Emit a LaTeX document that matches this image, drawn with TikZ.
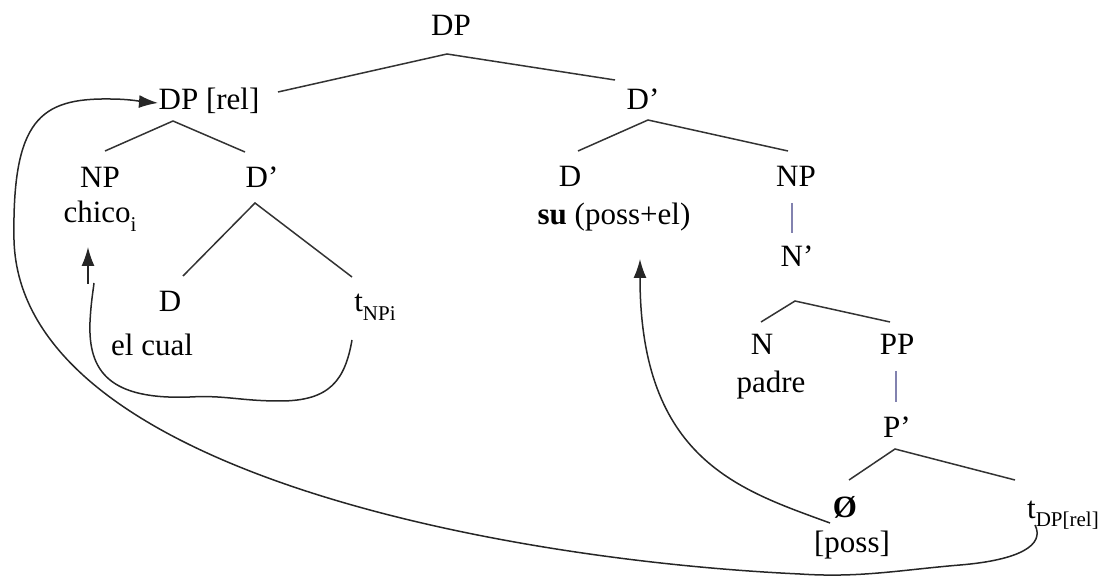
\documentclass[tikz,border=0pt]{standalone}
\usepackage{fontspec}
\setmainfont{Liberation Serif}
\usetikzlibrary{arrows.meta}
\definecolor{unarycol}{RGB}{130,130,175}
\newcommand{\lowsub}[1]{\raisebox{-0.28em}{\fontsize{21}{21}\selectfont #1}}
\begin{document}
\begin{tikzpicture}[x=1pt,y=-1pt,
  lbl/.style={anchor=base, inner sep=0pt, font=\fontsize{31}{36}\selectfont},
  branch/.style={draw=black!80, line width=1.5pt},
  unary/.style={draw=unarycol, line width=1.3pt},
  move/.style={draw=black!85, line width=1.5pt},
  tip/.style={-{Latex[length=19pt,width=13pt]}}]
\useasboundingbox (0,0) rectangle (1104,577);

% labels
\node[lbl] (DP) at (451,36) {DP};
\node[lbl] (DPrel) at (209,110) {DP [rel]};
\node[lbl] (DbarR) at (643,110) {D’};
\node[lbl] (NPL) at (100,188) {NP};
\node[lbl] (chico) at (100,223) {chico\lowsub{i}};
\node[lbl] (DbarL) at (262,188) {D’};
\node[lbl] (DL) at (170,312) {D};
\node[lbl] (tNP) at (375,312) {t\lowsub{NPi}};
\node[lbl] (elcual) at (152,356) {el cual};
\node[lbl] (DR) at (570,187) {D};
\node[lbl] (NPR) at (796,187) {NP};
\node[lbl] (su) at (614,225) {\textbf{su} (poss+el)};
\node[lbl] (Nbar) at (797,267) {N’};
\node[lbl] (N) at (762,355) {N};
\node[lbl] (padre) at (771,393) {padre};
\node[lbl] (PP) at (897,355) {PP};
\node[lbl] (Pbar) at (897,438) {P’};
\node[lbl] (null) at (845,517) {\textbf{Ø}};
\node[lbl] (poss) at (852,552) {[poss]};
\node[lbl] (tDP) at (1063,518) {t\lowsub{DP[rel]}};

% branch points
\coordinate (a1) at (447,54);  \coordinate (a1l) at (278,92);  \coordinate (a1r) at (615,80);
\coordinate (a2) at (173,121); \coordinate (a2l) at (105,151); \coordinate (a2r) at (245,152);
\coordinate (a3) at (255,203); \coordinate (a3l) at (183,276); \coordinate (a3r) at (352,277);
\coordinate (a4) at (648,120); \coordinate (a4l) at (578,151); \coordinate (a4r) at (788,151);
\coordinate (u1t) at (792,203); \coordinate (u1b) at (792,233);
\coordinate (a5) at (795,301); \coordinate (a5l) at (761,322); \coordinate (a5r) at (890,322);
\coordinate (u2t) at (896,371); \coordinate (u2b) at (896,402);
\coordinate (a6) at (895,449); \coordinate (a6l) at (849,480); \coordinate (a6r) at (1015,480);

\draw[branch] (a1l) -- (a1) -- (a1r);
\draw[branch] (a2l) -- (a2) -- (a2r);
\draw[branch] (a3l) -- (a3) -- (a3r);
\draw[branch] (a4l) -- (a4) -- (a4r);
\draw[unary] (u1t) -- (u1b);
\draw[branch] (a5l) -- (a5) -- (a5r);
\draw[unary] (u2t) -- (u2b);
\draw[branch] (a6l) -- (a6) -- (a6r);

% movement: t_NPi -> chico
\coordinate (m1s) at (352,340);
\coordinate (m1e) at (94,283);
\coordinate (m1as) at (88,284);
\coordinate (m1at) at (88,247);
\draw[move] (m1s) .. controls (345,380) and (330,401) .. (280,401)
  .. controls (240,401) and (225,395) .. (190,397)
  .. controls (110,400) and (88,372) .. (90,322)
  .. controls (91,302) and (93,292) .. (m1e);
\draw[move,tip] (m1as) -- (m1at);

% movement: null -> su
\coordinate (m2s) at (830,523);
\coordinate (m2t) at (640,259);
\draw[move,tip] (m2s) .. controls (740,490) and (640,460) .. (m2t);

% movement: t_DP[rel] -> DP[rel]
\coordinate (m3s) at (1035,525);
\coordinate (m3t) at (158,103);
\draw[move,tip] (m3s) .. controls (1045,545) and (1020,560) .. (960,565)
  .. controls (900,570) and (860,578) .. (800,574)
  .. controls (500,560) and (20,470) .. (14,240)
  .. controls (12,120) and (40,98) .. (110,99)
  .. controls (130,99) and (145,102) .. (m3t);
\end{tikzpicture}
\end{document}
